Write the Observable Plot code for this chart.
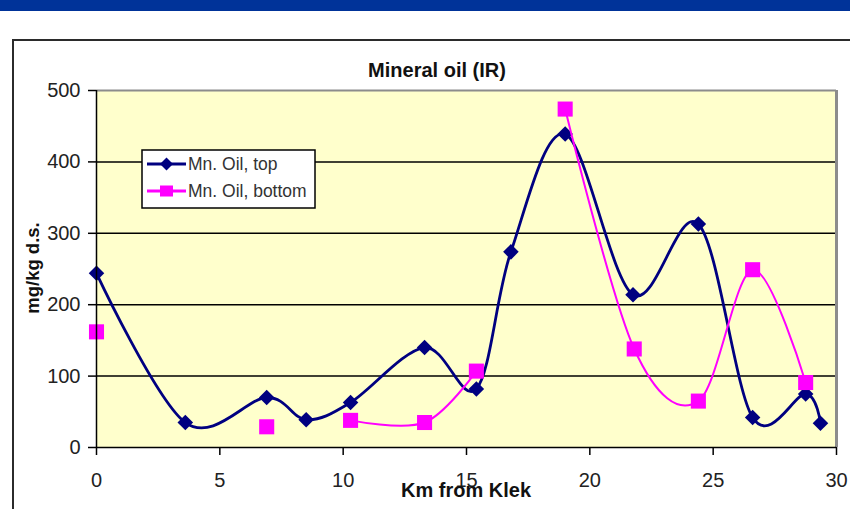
<!DOCTYPE html>
<html>
<head>
<meta charset="utf-8">
<script src="https://cdn.jsdelivr.net/npm/d3@7"></script>
<script src="https://cdn.jsdelivr.net/npm/@observablehq/plot@0.6"></script>
<style>
  html, body { margin: 0; padding: 0; background: #fff; }
  #chart { width: 850px; height: 509px; overflow: hidden; }
  #chart svg { display: block; }
</style>
</head>
<body>
<div id="chart"></div>
<script>
// Mineral oil (IR) in sediment, mg/kg dry substance, by distance from Klek
const kmTop = [0, 3.6, 6.9, 8.5, 10.3, 13.3, 15.4, 16.8, 19.0, 21.75, 24.4, 26.6, 28.75, 29.35];
const oilTop = [244, 35, 70, 39, 63, 140, 82, 274, 439, 214, 313, 42, 75, 34];

const kmBottom = [0, 6.9, 10.3, 13.3, 15.4, 19.0, 21.8, 24.4, 26.6, 28.75];
const oilBottom = [162, 29, 38, 35, 107, 474, 138, 65, 249, 91];
// connected runs of the bottom series (a missing sample breaks the line)
const runBottom = [1, 2, 3, 3, 3, 4, 4, 4, 4, 4];

const xTicks = [0, 5, 10, 15, 20, 25, 30];
const yTicks = [0, 100, 200, 300, 400, 500];
const gridTicks = [100, 200, 300, 400];

const seriesNames = ["Mn. Oil, top", "Mn. Oil, bottom"];
const seriesColors = ["#000080", "#FF00FF"];

const topRows = kmTop.map((km, i) => ({km, oil: oilTop[i]}));
const bottomRows = kmBottom.map((km, i) => ({km, oil: oilBottom[i], run: runBottom[i]}));

const font = "'Liberation Sans', Arial, sans-serif";

const svg = Plot.plot({
  width: 850,
  height: 509,
  marginLeft: 96,
  marginRight: 14,
  marginTop: 90,
  marginBottom: 62,
  style: {fontFamily: font, background: "transparent", color: "#000"},
  x: {domain: [0, 30], axis: null},
  y: {domain: [0, 500], axis: null},
  marks: [
    Plot.frame({fill: "#FFFFCC", stroke: null}),
    Plot.gridY(gridTicks, {stroke: "#000", strokeOpacity: 1, strokeWidth: 1.5}),
    Plot.ruleY([500], {stroke: "#8c8c8c", strokeWidth: 2}),
    Plot.ruleX([30], {stroke: "#8c8c8c", strokeWidth: 3}),
    Plot.line(topRows, {x: "km", y: "oil", curve: "cardinal", tension: 0, stroke: seriesColors[0], strokeWidth: 2.8}),
    Plot.dot(topRows, {x: "km", y: "oil", symbol: "diamond2", r: 7, fill: seriesColors[0], stroke: null}),
    Plot.line(bottomRows, {x: "km", y: "oil", z: "run", curve: "cardinal", tension: 0, stroke: seriesColors[1], strokeWidth: 2}),
    Plot.dot(bottomRows, {x: "km", y: "oil", symbol: "square", r: 8.5, fill: seriesColors[1], stroke: null}),
    Plot.ruleX([0], {stroke: "#000", strokeWidth: 1.5}),
    Plot.ruleY([0], {stroke: "#000", strokeWidth: 1.5}),
    Plot.axisX({ticks: xTicks, tickFormat: d => String(d), tickSize: 8, tickPadding: 17,
      fontSize: 20, stroke: "#000", strokeWidth: 1.5, fill: "#222", label: null}),
    Plot.axisY({ticks: yTicks, tickFormat: d => String(d), tickSize: 8, tickPadding: 8,
      fontSize: 20, stroke: "#000", strokeWidth: 1.5, fill: "#222", label: null})
  ]
});

document.getElementById("chart").appendChild(svg);

const s = d3.select(svg);

// page banner and chart-area border
s.append("rect").attr("x", 0).attr("y", 0).attr("width", 850).attr("height", 11).attr("fill", "#003399");
s.append("rect").attr("x", 13).attr("y", 40).attr("width", 860).attr("height", 500)
  .attr("fill", "none").attr("stroke", "#2b2b2b").attr("stroke-width", 2);

// titles
s.append("text").attr("x", 437).attr("y", 77).attr("text-anchor", "middle")
  .attr("font-family", font).attr("font-weight", "bold").attr("font-size", 20).attr("fill", "#111")
  .text("Mineral oil (IR)");
s.append("text").attr("x", 466).attr("y", 497).attr("text-anchor", "middle")
  .attr("font-family", font).attr("font-weight", "bold").attr("font-size", 20).attr("fill", "#111")
  .text("Km from Klek");
s.append("text").attr("transform", "translate(39,268) rotate(-90)").attr("text-anchor", "middle")
  .attr("font-family", font).attr("font-weight", "bold").attr("font-size", 18.5).attr("fill", "#111")
  .text("mg/kg d.s.");

// legend
const lg = s.append("g").attr("text-anchor", "start");
lg.append("rect").attr("x", 142).attr("y", 150).attr("width", 173).attr("height", 58)
  .attr("fill", "#fff").attr("stroke", "#000").attr("stroke-width", 1.5);
const rowsY = [164, 191];
seriesNames.forEach((name, i) => {
  const y = rowsY[i];
  lg.append("line").attr("x1", 147).attr("x2", 186).attr("y1", y).attr("y2", y)
    .attr("stroke", seriesColors[i]).attr("stroke-width", i === 0 ? 2.8 : 3);
  if (i === 0) {
    lg.append("path").attr("d", `M166.5,${y - 6.5}L173,${y}L166.5,${y + 6.5}L160,${y}Z`).attr("fill", seriesColors[i]);
  } else {
    lg.append("rect").attr("x", 160).attr("y", y - 5.5).attr("width", 13).attr("height", 11).attr("fill", seriesColors[i]);
  }
  lg.append("text").attr("x", 188).attr("y", y + 6).attr("text-anchor", "start")
    .attr("font-family", font).attr("font-size", 17.5).attr("fill", "#333").text(name);
});
</script>
</body>
</html>
